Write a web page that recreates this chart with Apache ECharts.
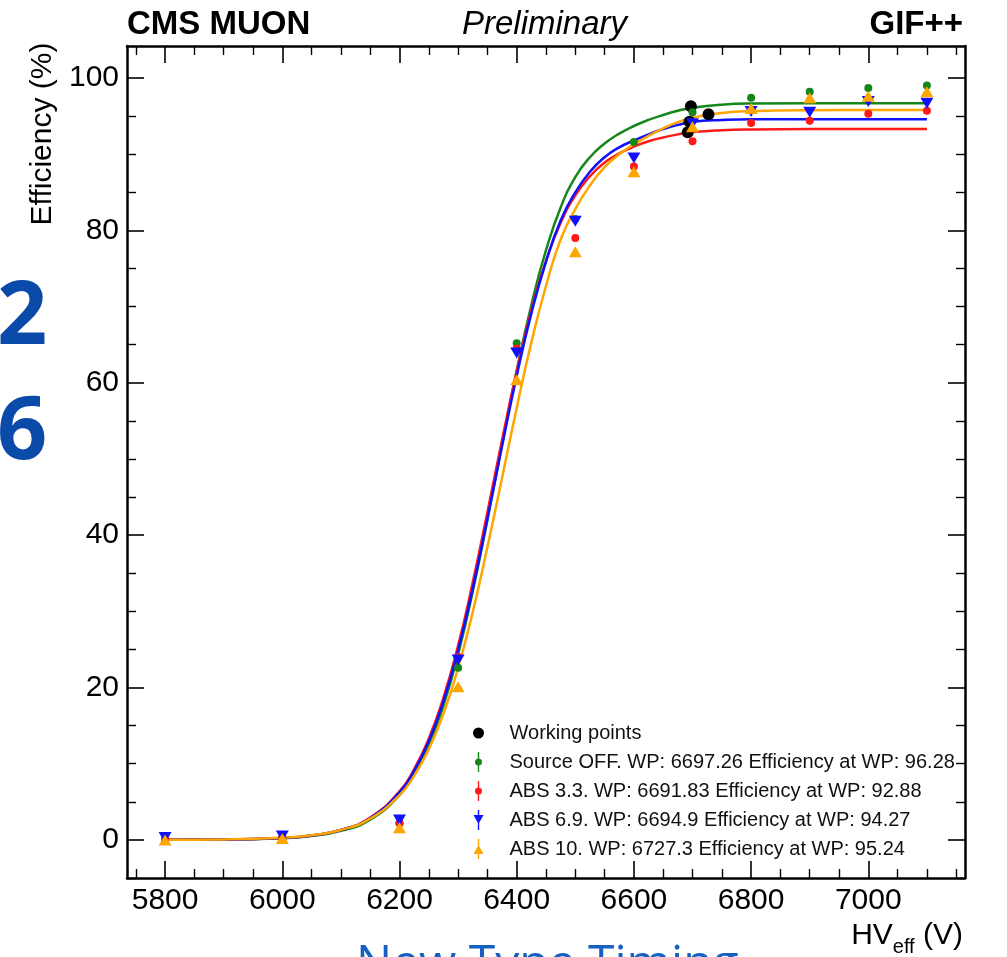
<!DOCTYPE html>
<html>
<head>
<meta charset="utf-8">
<script src="https://cdn.jsdelivr.net/npm/echarts@6/dist/echarts.min.js"></script>
<style>
html,body{margin:0;padding:0;background:#fff;}
#chart{width:1007px;height:957px;}
</style>
</head>
<body>
<div id="chart"></div>
<script>
// ---- data ----
const hvPoints = [5800, 6000, 6200, 6300, 6400, 6500, 6600, 6700, 6800, 6900, 7000, 7100];
const effSourceOff = [0.1, 0.3, 2.2, 22.6, 65.2, 81.5, 91.6, 95.5, 97.4, 98.2, 98.7, 99.0];
const effAbs33    = [0.1, 0.3, 2.2, 24.0, 64.5, 79.0, 88.4, 91.7, 94.1, 94.4, 95.3, 95.7];
const effAbs69    = [0.3, 0.5, 2.6, 23.6, 63.9, 81.2, 89.5, 94.0, 95.6, 95.5, 96.9, 96.7];
const effAbs10    = [0.0, 0.2, 1.6, 20.1, 60.4, 77.2, 87.7, 93.6, 96.0, 97.4, 97.6, 98.2];

const wpHV  = [6697.26, 6691.83, 6694.9, 6727.3];
const wpEff = [96.28, 92.88, 94.27, 95.24];

const fitHV = [5800, 5900, 6000, 6050, 6100, 6150, 6200, 6225, 6250, 6275, 6300, 6325, 6350, 6375, 6400, 6425, 6450, 6475, 6500, 6525, 6550, 6575, 6600, 6625, 6650, 6675, 6700, 6750, 6800, 6900, 7000, 7100];
const fitSourceOff = [0.01, 0.04, 0.23, 0.52, 1.19, 2.67, 5.87, 8.60, 12.43, 17.62, 24.35, 32.6, 42.0, 51.9, 61.6, 70.2, 77.4, 83.0, 87.0, 89.6, 91.4, 92.7, 93.7, 94.5, 95.15, 95.7, 96.1, 96.5, 96.65, 96.7, 96.7, 96.7];
const fitAbs33     = [0.01, 0.05, 0.26, 0.58, 1.31, 2.93, 6.37, 9.28, 13.30, 18.68, 25.5, 33.8, 43.0, 52.5, 61.5, 69.5, 76.0, 81.0, 84.6, 87.1, 88.9, 90.1, 91.0, 91.7, 92.2, 92.6, 92.9, 93.15, 93.25, 93.3, 93.3, 93.3];
const fitAbs69     = [0.01, 0.05, 0.26, 0.58, 1.30, 2.87, 6.24, 9.05, 12.95, 18.19, 24.89, 33.0, 42.14, 51.7, 60.9, 69.1, 75.9, 81.3, 85.0, 87.7, 89.6, 90.9, 91.8, 92.6, 93.3, 93.85, 94.25, 94.5, 94.6, 94.6, 94.6, 94.6];
const fitAbs10     = [0.01, 0.06, 0.28, 0.61, 1.31, 2.80, 5.88, 8.41, 11.90, 16.56, 22.56, 29.9, 38.4, 47.5, 56.7, 65.3, 72.7, 78.8, 82.8, 85.9, 88.3, 90.0, 91.3, 92.4, 93.4, 94.2, 94.8, 95.4, 95.65, 95.78, 95.8, 95.8];

const seriesNames = [
  'Working points',
  'Source OFF. WP: 6697.26 Efficiency at WP: 96.28',
  'ABS 3.3. WP: 6691.83 Efficiency at WP: 92.88',
  'ABS 6.9. WP: 6694.9 Efficiency at WP: 94.27',
  'ABS 10. WP: 6727.3 Efficiency at WP: 95.24'
];

const xMajorTicks = [5800, 6000, 6200, 6400, 6600, 6800, 7000];
const xMinorTicks = [5750, 5850, 5900, 5950, 6050, 6100, 6150, 6250, 6300, 6350, 6450, 6500, 6550, 6650, 6700, 6750, 6850, 6900, 6950, 7050, 7100, 7150];
const yMajorTicks = [0, 20, 40, 60, 80, 100];
const yMinorTicks = [-5, 5, 10, 15, 25, 30, 35, 45, 50, 55, 65, 70, 75, 85, 90, 95];

// ---- chart ----
const FONT = '"Liberation Sans", Arial, Helvetica, sans-serif';
const zip = (a, b) => a.map((v, i) => [v, b[i]]);

const GREEN = '#15871a', RED = '#ff1a1a', BLUE = '#1010ff', ORANGE = '#ffa500';

const iconCircleErr = 'path://M4.3,0H5.7V20H4.3Z M8.5,10A3.5,3.5 0 1 1 1.5,10A3.5,3.5 0 1 1 8.5,10Z';
const iconDownErr = 'path://M4.3,0H5.7V20H4.3Z M0,5H10L5,14Z';
const iconUpErr = 'path://M4.3,0H5.7V20H4.3Z M5,6L10,15H0Z';
const iconWP = 'path://M4.99,0H5.01V0.02H4.99Z M4.99,19.98H5.01V20H4.99Z M10.5,10A5.5,5.5 0 1 1 -0.5,10A5.5,5.5 0 1 1 10.5,10Z';

function majorAxis(pos, ticks, labels, isX) {
  return {
    type: 'value', position: pos,
    min: isX ? 5735 : -5, max: isX ? 7165 : 104.2,
    axisLine: { show: true, onZero: false, lineStyle: { color: '#000', width: 2.5 } },
    axisTick: { show: true, inside: true, length: 17, customValues: ticks, lineStyle: { color: '#000', width: 1.6 } },
    axisLabel: labels ? { show: true, customValues: ticks, color: '#000', fontFamily: FONT, fontSize: 30, margin: 8, formatter: function (v) { return String(v); } } : { show: false },
    splitLine: { show: false }
  };
}
function minorAxis(pos, ticks, isX) {
  return {
    type: 'value', position: pos,
    min: isX ? 5735 : -5, max: isX ? 7165 : 104.2,
    axisLine: { show: false, onZero: false },
    axisTick: { show: true, inside: true, length: 9, customValues: ticks, lineStyle: { color: '#000', width: 1.4 } },
    axisLabel: { show: false },
    splitLine: { show: false }
  };
}

const chart = echarts.init(document.getElementById('chart'), null, { renderer: 'canvas' });
chart.setOption({
  animation: false,
  backgroundColor: '#fff',
  grid: { left: 127, top: 46, right: 42, bottom: 79, containLabel: false, outerBoundsMode: 'none' },
  xAxis: [
    majorAxis('bottom', xMajorTicks, true, true),
    minorAxis('bottom', xMinorTicks, true),
    majorAxis('top', xMajorTicks, false, true),
    minorAxis('top', xMinorTicks, true)
  ],
  yAxis: [
    majorAxis('left', yMajorTicks, true, false),
    minorAxis('left', yMinorTicks, false),
    majorAxis('right', yMajorTicks, false, false),
    minorAxis('right', yMinorTicks, false)
  ],
  legend: {
    orient: 'vertical', left: 468, top: 718, itemGap: 9,
    itemWidth: 52, itemHeight: 20, symbolKeepAspect: true, selectedMode: false,
    textStyle: { fontFamily: FONT, fontSize: 20, color: '#111' },
    data: [
      { name: seriesNames[0], icon: iconWP },
      { name: seriesNames[1], icon: iconCircleErr },
      { name: seriesNames[2], icon: iconCircleErr },
      { name: seriesNames[3], icon: iconDownErr },
      { name: seriesNames[4], icon: iconUpErr }
    ]
  },
  graphic: [
    { type: 'text', left: 127, top: 8, style: { text: 'CMS MUON', font: 'bold 33px ' + FONT, fill: '#000' } },
    { type: 'text', left: 462, top: 8, style: { text: 'Preliminary', font: 'italic 33px ' + FONT, fill: '#000' } },
    { type: 'text', right: 44, top: 8, style: { text: 'GIF++', font: 'bold 33px ' + FONT, fill: '#000' } },
    { type: 'text', x: 43, y: 134, rotation: Math.PI / 2, style: { text: 'Efficiency (%)', font: '30px ' + FONT, fill: '#000', align: 'center', verticalAlign: 'middle' } },
    { type: 'text', right: 44, top: 921, style: {
        text: '{a|HV}{b|eff}{a| (V)}',
        rich: { a: { fontFamily: FONT, fontSize: 30, fill: '#000', verticalAlign: 'bottom' }, b: { fontFamily: FONT, fontSize: 20, fill: '#000', verticalAlign: 'bottom', padding: [0, 0, -6, 0] } }
      } },
    { type: 'text', x: -3, y: 275, style: { text: '2', font: 'bold 88px "Open Sans", "Noto Sans", sans-serif', fill: '#0a4aa8', verticalAlign: 'top' } },
    { type: 'text', x: -3, y: 390, style: { text: '6', font: 'bold 88px "Open Sans", "Noto Sans", sans-serif', fill: '#0a4aa8', verticalAlign: 'top' } },
    { type: 'text', x: 356, y: 941, style: { text: 'New Type Timing', font: '48px "Open Sans", "Noto Sans", sans-serif', fill: '#1560c0', verticalAlign: 'top' } }
  ],
  series: [
    { name: 'fit green', type: 'line', data: zip(fitHV, fitSourceOff), showSymbol: false, smooth: 0.5, lineStyle: { color: GREEN, width: 2.5 }, z: 2, silent: true },
    { name: 'fit red', type: 'line', data: zip(fitHV, fitAbs33), showSymbol: false, smooth: 0.5, lineStyle: { color: RED, width: 2.5 }, z: 2, silent: true },
    { name: 'fit blue', type: 'line', data: zip(fitHV, fitAbs69), showSymbol: false, smooth: 0.5, lineStyle: { color: BLUE, width: 2.5 }, z: 2, silent: true },
    { name: 'fit orange', type: 'line', data: zip(fitHV, fitAbs10), showSymbol: false, smooth: 0.5, lineStyle: { color: ORANGE, width: 2.5 }, z: 2, silent: true },
    { name: seriesNames[0], type: 'scatter', data: zip(wpHV, wpEff), symbol: 'circle', symbolSize: 12, itemStyle: { color: '#000', opacity: 1 }, z: 3 },
    { name: seriesNames[1], type: 'scatter', data: zip(hvPoints, effSourceOff), symbol: 'circle', symbolSize: 8, itemStyle: { color: GREEN, opacity: 1 }, z: 4 },
    { name: seriesNames[2], type: 'scatter', data: zip(hvPoints, effAbs33), symbol: 'circle', symbolSize: 8, itemStyle: { color: RED, opacity: 1 }, z: 4 },
    { name: seriesNames[3], type: 'scatter', data: zip(hvPoints, effAbs69), symbol: 'triangle', symbolRotate: 180, symbolSize: [13, 11], itemStyle: { color: BLUE, opacity: 1 }, z: 4 },
    { name: seriesNames[4], type: 'scatter', data: zip(hvPoints, effAbs10), symbol: 'triangle', symbolSize: [13, 11], itemStyle: { color: ORANGE, opacity: 1 }, z: 4 }
  ]
});
</script>
</body>
</html>
